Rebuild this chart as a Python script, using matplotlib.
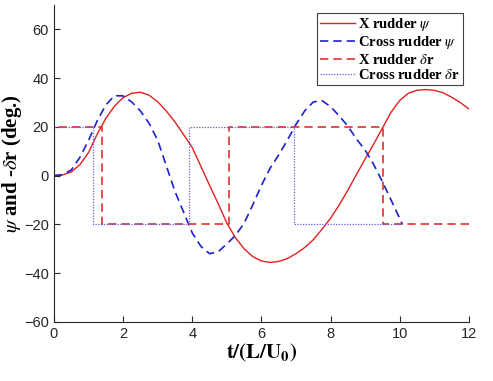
import matplotlib
matplotlib.use('Agg')
import matplotlib.pyplot as plt

plt.rcParams['mathtext.fontset'] = 'stix'

# X rudder psi
t_x = [0, 0.25, 0.5, 0.75, 1.0, 1.25, 1.5, 1.75, 2.0, 2.25, 2.5, 2.75, 3.0, 3.25,
       3.5, 3.75, 4.0, 4.25, 4.5, 4.75, 5.0, 5.25, 5.5, 5.75, 6.0, 6.25, 6.5, 6.75,
       7.0, 7.25, 7.5, 7.75, 8.0, 8.25, 8.5, 8.75, 9.0, 9.25, 9.5, 9.75, 10.0, 10.25,
       10.5, 10.75, 11.0, 11.25, 11.5, 11.75, 12.0]
psi_x = [0, 0.3, 1.5, 4.5, 9.5, 17, 23.5, 28.5, 32, 33.8, 34.2, 33, 30.3, 26.5,
         22, 16.8, 11.5, 3.8, -4, -11.5, -19.5, -25.5, -30, -33.2, -35, -35.6, -35.2, -34,
         -32, -29.5, -26.3, -22, -17.5, -12, -6, 0.5, 6.8, 13, 19.5, 26, 30.8, 33.8,
         35, 35.3, 35, 34, 32.2, 30, 27.4]

# Cross rudder psi
t_c = [0, 0.25, 0.5, 0.75, 1.0, 1.25, 1.5, 1.75, 2.0, 2.25, 2.5, 2.75, 3.0, 3.25,
       3.5, 3.75, 4.0, 4.25, 4.5, 4.75, 5.0, 5.25, 5.5, 5.75, 6.0, 6.25, 6.5, 6.75,
       7.0, 7.25, 7.5, 7.75, 8.0, 8.25, 8.5, 8.75, 9.0, 9.25, 9.5, 9.75, 10.0, 10.08]
psi_c = [0, 0.4, 2.3, 7.5, 14.5, 22.5, 29, 32.8, 32.7, 30.2, 26.5, 21.5, 14.5, 4,
         -6.5, -15, -23.5, -29, -32, -31.2, -28, -24.5, -19.5, -12, -4, 3, 8.5, 14.5,
         21, 26.5, 30.2, 30.8, 28.3, 24.5, 20.3, 15, 10.5, 4.5, -2.5, -10, -17.5, -20]

# rudder steps
t_dx = [0, 0, 1.38, 1.38, 5.05, 5.05, 9.52, 9.52, 12]
dr_x = [0, 20, 20, -20, -20, 20, 20, -20, -20]
t_dc = [0, 0, 1.14, 1.14, 3.9, 3.9, 6.95, 6.95, 10.08]
dr_c = [0, 20, 20, -20, -20, 20, 20, -20, -20]

fig = plt.figure(figsize=(4.93, 3.81), dpi=100)
ax = fig.add_axes([0.1095, 0.155, 0.8415, 0.832])

ax.plot(t_x, psi_x, color='#e02020', lw=1.0, label=r'X rudder $\psi$')
ax.plot(t_c, psi_c, color='#1f1fd0', lw=1.2, ls=(0, (5, 3)), label=r'Cross rudder $\psi$')
ax.plot(t_dx, dr_x, color='#e03030', lw=1.2, ls=(0, (5, 3)), label=r'X rudder $\delta$r')
ax.plot(t_dc, dr_c, color='#6060e0', lw=0.9, ls=(0, (1, 1.2)), label=r'Cross rudder $\delta$r')

ax.set_xlim(0, 12)
ax.set_ylim(-60, 70)
ax.set_xticks(range(0, 13, 2))
ax.set_yticks(range(-60, 61, 20))
ax.spines['top'].set_visible(False)
ax.spines['right'].set_visible(False)
for s in ['left', 'bottom']:
    ax.spines[s].set_color('#262626')
    ax.spines[s].set_linewidth(0.8)
ax.tick_params(direction='in', length=4, width=0.8, colors='#262626', labelsize=10.5)
for lab in ax.get_xticklabels() + ax.get_yticklabels():
    lab.set_fontfamily('Liberation Sans')

ax.set_xlabel(r'$\mathbf{t/(L/U_0)}$', fontsize=15, labelpad=1)
ax.set_ylabel(r'$\psi$ and -$\delta$r (deg.)', fontsize=15, fontweight='bold',
              family='Liberation Serif', labelpad=0)

leg = ax.legend(loc='upper right', bbox_to_anchor=(0.985, 0.975), fancybox=False,
                framealpha=1, edgecolor='#404040', borderpad=0.2, labelspacing=0.1,
                handlelength=2.4, handletextpad=0.2, borderaxespad=0,
                prop={'family': 'Liberation Serif', 'weight': 'bold', 'size': 10.5})
leg.get_frame().set_linewidth(0.8)

fig.savefig('out.png', dpi=100)
